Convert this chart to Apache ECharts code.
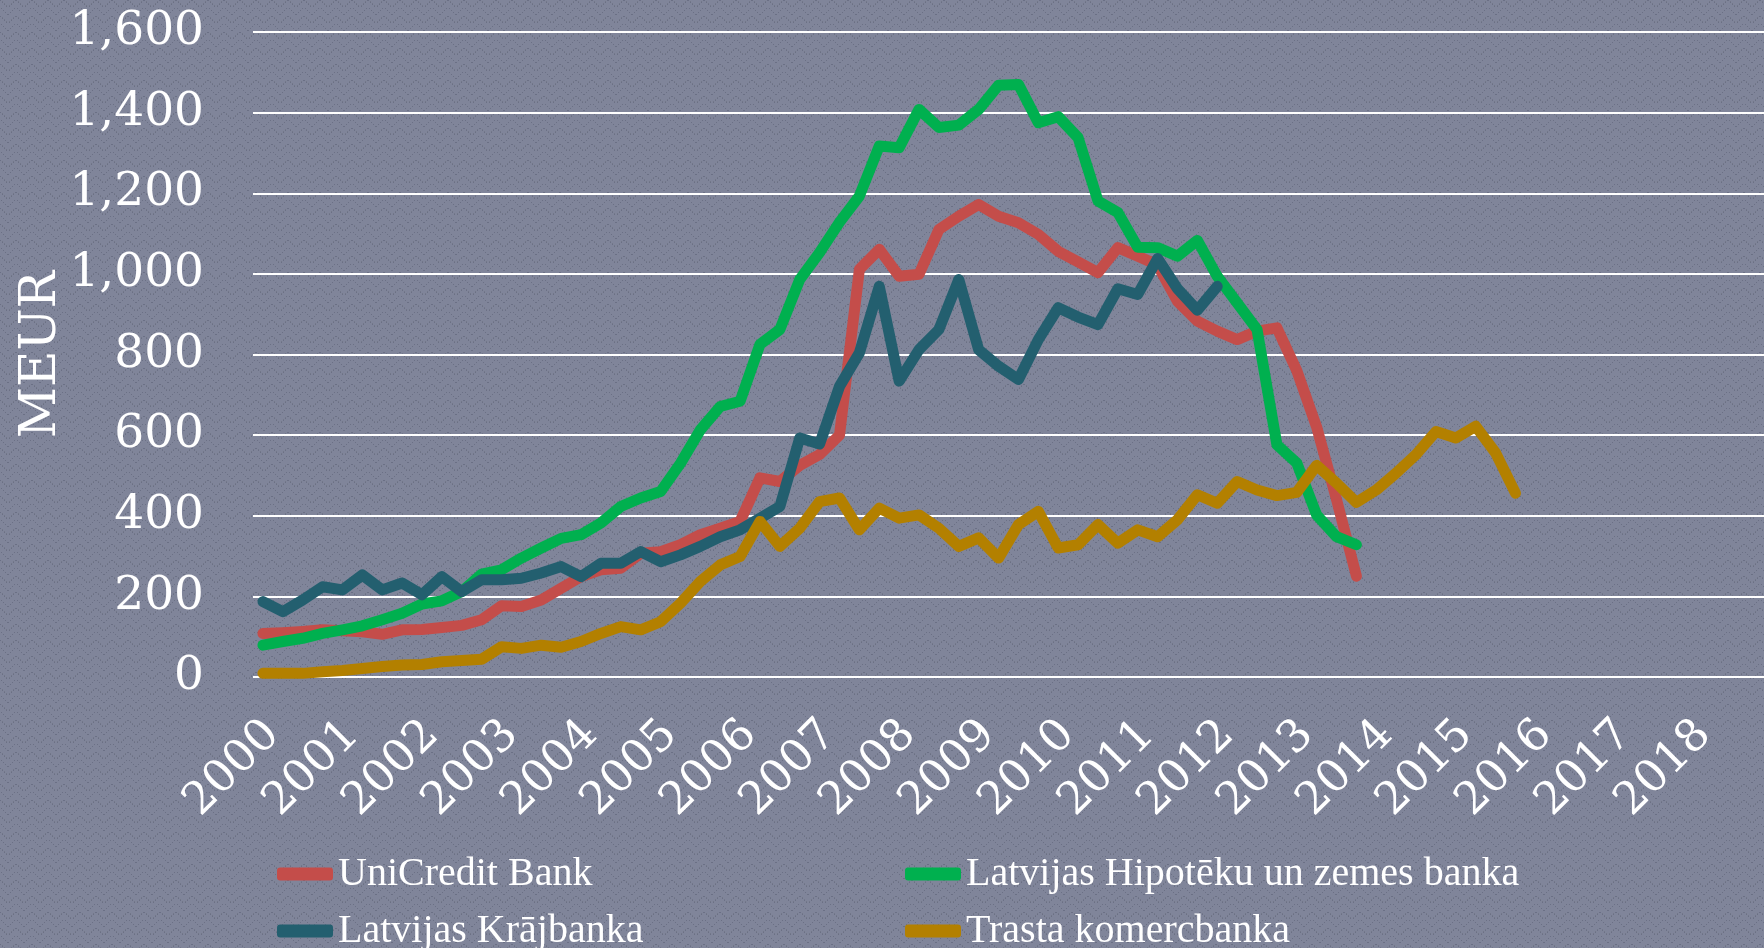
<!DOCTYPE html>
<html>
<head>
<meta charset="utf-8">
<script src="https://cdn.jsdelivr.net/npm/echarts@6/dist/echarts.min.js"></script>
<style>
  html, body { margin: 0; padding: 0; background: #7c8192; }
  #chart { width: 1764px; height: 948px; }
</style>
</head>
<body>
<div id="chart"></div>
<script>
// quarterly values, MEUR, starting 2000 Q1
const years = ['2000','2001','2002','2003','2004','2005','2006','2007','2008','2009',
               '2010','2011','2012','2013','2014','2015','2016','2017','2018'];
const quarters = ['Q1','Q2','Q3','Q4'];

const seriesNames = ['UniCredit Bank', 'Latvijas Hipotēku un zemes banka', 'Latvijas Krājbanka', 'Trasta komercbanka'];

const unicredit = [108,110,113,117,115,112,106,117,118,123,128,142,177,175,191,220,
                   249,266,270,307,311,328,353,369,386,494,485,525,552,600,1011,1061,
                   994,999,1110,1143,1172,1143,1127,1098,1056,1030,1003,1065,1044,1022,932,883,
                   858,837,858,866,760,620,440,250];
const hipoteku  = [79,88,96,108,117,127,142,158,181,189,212,255,266,295,320,344,
                   353,382,423,444,460,530,613,671,684,825,862,986,1053,1128,1193,1317,
                   1313,1408,1363,1369,1408,1468,1470,1375,1390,1338,1181,1152,1066,1065,1044,1083,
                   994,928,862,576,531,402,348,328];
const krajbanka = [187,162,191,224,216,253,216,233,204,249,212,241,241,245,258,274,
                   249,282,282,311,286,303,324,348,365,394,423,593,578,721,804,969,
                   734,812,862,986,812,771,738,837,916,893,874,963,949,1038,963,910,
                   969];
const trasta    = [9,9,9,13,16,21,26,30,31,38,41,44,75,71,79,74,
                   88,108,125,117,137,183,237,278,299,386,324,369,435,444,365,419,
                   394,402,369,324,345,295,378,411,320,328,378,332,365,348,390,452,
                   431,485,464,450,458,525,481,433,464,506,552,609,593,622,556,456];

const colors = ['#c44d4a', '#00b04f', '#235f6f', '#b38000'];

const categories = [];
years.forEach(y => quarters.forEach(q => categories.push(y + ' ' + q)));

// woven background tile
function makeTile() {
  const c = document.createElement('canvas');
  c.width = 16; c.height = 16;
  const g = c.getContext('2d');
  g.fillStyle = '#80859a';
  g.fillRect(0, 0, 16, 16);
  g.fillStyle = '#6b7085';
  for (let k = 0; k < 7; k += 2) {
    g.fillRect(k, k, 1, 1);
    g.fillRect(15 - k, k, 1, 1);
    g.fillRect(k + 1, 8 + k, 1, 1);
    g.fillRect(14 - k, 8 + k, 1, 1);
  }
  g.fillStyle = '#737889';
  for (let k = 1; k < 7; k += 2) {
    g.fillRect(k + 1, k, 1, 1);
    g.fillRect(14 - k, k, 1, 1);
  }
  return c;
}

const chart = echarts.init(document.getElementById('chart'));

const data = [unicredit, hipoteku, krajbanka, trasta];
const legendText = { color: '#ffffff', fontFamily: 'Liberation Serif', fontSize: 40, lineHeight: 40 };

// one legend per slot, laid out as two columns x two rows
const legendSlots = [[272, 849], [900, 849], [272, 906], [900, 906]];

chart.setOption({
  animation: false,
  backgroundColor: { image: makeTile(), repeat: 'repeat' },
  grid: { left: 253, right: 0, top: 32, bottom: 271, outerBoundsMode: 'none', containLabel: false },
  legend: seriesNames.map((name, i) => ({
    data: [name],
    left: legendSlots[i][0], top: legendSlots[i][1],
    itemWidth: 56, itemHeight: 13,
    icon: 'roundRect', textStyle: legendText
  })),
  xAxis: {
    type: 'category',
    data: categories,
    boundaryGap: true,
    axisLine: { show: false },
    axisTick: { show: false },
    axisLabel: {
      interval: 3,
      rotate: 45,
      margin: 41,
      verticalAlign: 'top',
      lineHeight: 28,
      color: '#ffffff',
      fontFamily: 'DejaVu Serif',
      fontSize: 45,
      formatter: v => v.slice(0, 4)
    }
  },
  yAxis: {
    type: 'value',
    min: 0, max: 1600, interval: 200,
    name: 'MEUR',
    nameLocation: 'middle',
    nameRotate: 90,
    nameGap: 186,
    nameMoveOverlap: false,
    nameTextStyle: { color: '#ffffff', fontFamily: 'DejaVu Serif', fontSize: 50 },
    axisLine: { show: false },
    axisTick: { show: false },
    splitLine: { lineStyle: { color: '#ffffff', width: 2 } },
    axisLabel: {
      margin: 49,
      color: '#ffffff',
      fontFamily: 'DejaVu Serif',
      fontSize: 47,
      formatter: v => v.toLocaleString('en-US')
    }
  },
  series: seriesNames.map((name, i) => ({
    name: name,
    type: 'line',
    data: data[i],
    showSymbol: false,
    color: colors[i],
    itemStyle: { color: colors[i] },
    lineStyle: { color: colors[i], width: 11, cap: 'round', join: 'round' }
  }))
});
</script>
</body>
</html>
